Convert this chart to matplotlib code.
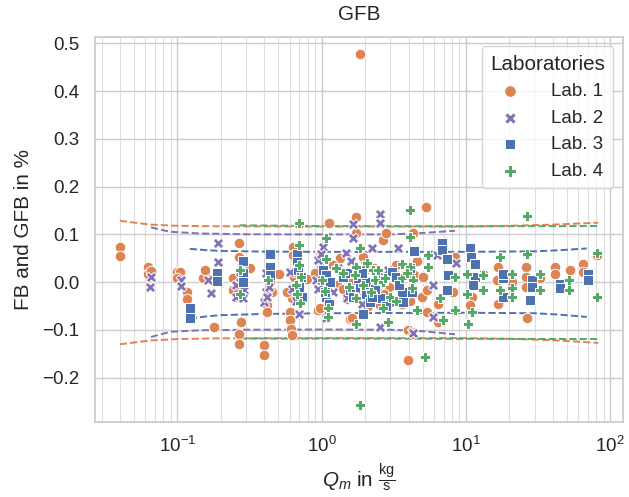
import matplotlib
matplotlib.use("Agg")
import matplotlib.pyplot as plt
import numpy as np
from matplotlib.ticker import LogLocator, NullFormatter

# ---------------- data ----------------
labs = ["Lab. 1", "Lab. 2", "Lab. 3", "Lab. 4"]
colors = ["#DD8452", "#8172B3", "#4C72B0", "#55A868"]
markers = ["o", "X", "s", "P"]

x1 = [0.040, 0.040, 0.063, 0.063, 0.066, 0.099, 0.105, 0.099, 0.117, 0.117,
      0.155, 0.150, 0.180, 0.243, 0.245, 0.267, 0.267, 0.277, 0.267, 0.267,
      0.32, 0.40, 0.40, 0.42, 0.42, 0.43, 0.50, 0.51, 0.60, 0.60,
      0.61, 0.62, 0.62, 0.63, 0.63, 0.70, 0.79, 0.94, 0.97, 0.97,
      1.13, 1.27, 1.35, 1.57, 1.63, 1.74, 1.74, 1.85, 1.94, 2.65,
      2.81, 3.97, 3.97, 4.28, 4.93, 5.34, 5.34, 5.28, 6.43, 6.43,
      8.37, 8.15, 10.95, 10.65, 13.2, 16.6, 16.8, 16.3, 20.8, 26.1,
      26.1, 26.1, 26.4, 32.6, 41.3, 41.3, 52.6, 64.3, 64.3, 81.5,
      0.45, 0.64, 0.68, 0.99, 1.05, 1.45, 1.50, 1.97, 2.30, 2.50,
      2.95, 3.30, 3.60, 4.40, 4.60, 0.26, 1.20, 2.10, 0.155, 0.41,
      0.58, 0.90, 1.10, 1.60, 2.00, 2.40, 3.10, 3.80, 4.10, 5.00,
      0.28, 0.44, 1.40, 2.70]
y1 = [0.074, 0.0545, 0.032, 0.018, 0.024, 0.0216, 0.0216, 0.0078, -0.020, -0.036,
      0.018, 0.008, -0.094, 0.0078, -0.017, 0.082, 0.052, -0.083, -0.109, -0.1285,
      0.0287, -0.132, -0.152, -0.048, -0.062, -0.010, 0.0168, 0.018, -0.062, -0.080,
      -0.097, -0.111, -0.034, 0.074, 0.0566, 0.122, 0.0057, -0.059, -0.055, 0.0566,
      0.123, -0.006, 0.0497, -0.078, -0.076, 0.102, 0.1356, 0.477, 0.053, 0.088,
      0.102, -0.100, -0.1635, 0.102, -0.031, -0.017, -0.062, 0.157, -0.045, -0.083,
      0.053, -0.020, -0.031, -0.048, 0.018, 0.032, -0.045, 0.004, 0.0006, 0.032,
      0.011, -0.0098, -0.076, 0.0078, 0.032, 0.018, 0.025, 0.039, 0.0216, 0.057,
      -0.020, 0.010, -0.015, 0.030, -0.025, 0.015, -0.035, -0.020, 0.030, -0.045,
      -0.010, 0.035, -0.045, 0.015, 0.045, -0.030, 0.035, -0.050, 0.026, -0.028,
      -0.020, 0.020, 0.005, 0.000, 0.025, -0.015, 0.020, -0.030, -0.040, 0.010,
      -0.005, 0.000, -0.015, -0.025]

x2 = [0.066, 0.065, 0.106, 0.106, 0.163, 0.172, 0.19, 0.19, 0.256, 0.29,
      0.256, 0.284, 0.41, 0.40, 0.41, 0.42, 0.60, 0.70, 0.97, 0.94,
      1.03, 0.91, 1.08, 1.47, 1.45, 1.65, 1.65, 2.22, 2.55, 2.55,
      2.52, 2.98, 3.39, 4.20, 4.27, 5.95, 5.95, 6.33, 8.53, 1.51,
      1.20, 1.75, 2.00, 0.70, 0.66, 0.99, 2.70, 3.80, 0.43, 0.62,
      0.95, 1.30, 1.90, 2.40, 3.20, 0.27, 1.60, 2.90]
y2 = [0.0099, -0.0098, 0.004, -0.0084, 0.004, -0.022, 0.081, 0.0426, -0.006, -0.017,
      -0.031, -0.034, -0.020, -0.041, 0.019, -0.030, 0.0216, -0.066, 0.060, 0.046,
      0.074, 0.004, -0.076, 0.0615, 0.018, 0.121, 0.0916, 0.0706, 0.142, 0.124,
      -0.094, -0.041, 0.0706, -0.104, -0.107, -0.073, -0.006, 0.0566, 0.040, -0.034,
      -0.020, -0.010, 0.035, 0.020, -0.040, 0.060, 0.010, -0.025, -0.010, -0.015,
      -0.015, 0.030, -0.045, -0.020, 0.015, 0.010, 0.045, 0.025]

x3 = [0.122, 0.122, 0.187, 0.187, 0.286, 0.286, 0.286, 0.44, 0.44, 0.44,
      0.67, 0.68, 0.69, 0.73, 0.72, 1.03, 1.08, 1.14, 1.08, 1.05,
      1.57, 1.79, 1.84, 1.99, 2.04, 2.04, 2.16, 1.95, 2.54, 3.05,
      3.60, 3.69, 4.20, 4.30, 4.37, 6.78, 6.78, 7.35, 7.55, 7.35,
      10.67, 10.8, 11.55, 11.55, 11.25, 18.0, 18.0, 18.2, 28.6, 28.6,
      27.8, 44.8, 44.8, 70.3, 70.3, 1.40, 1.65, 2.35, 3.30, 2.80,
      1.12, 1.50, 2.25, 2.65, 3.45, 4.10, 0.70, 1.90]
y3 = [-0.053, -0.076, 0.0195, 0.0027, 0.044, 0.0195, 0.0006, 0.0587, 0.032, 0.015,
      0.0587, 0.0426, 0.025, -0.031, 0.010, 0.025, 0.0147, 0.0006, -0.031, -0.020,
      -0.017, 0.0078, -0.013, -0.0098, -0.024, 0.0006, -0.041, -0.066, -0.034, 0.0216,
      -0.020, -0.041, -0.020, 0.0635, 0.0656, 0.081, 0.067, 0.0476, 0.0147, -0.017,
      0.0706, 0.053, 0.039, 0.011, -0.006, 0.0078, -0.031, 0.018, 0.004, -0.0098,
      -0.038, -0.003, -0.013, 0.018, 0.004, 0.010, -0.030, -0.015, 0.010, -0.050,
      -0.045, 0.020, -0.030, 0.005, -0.005, 0.030, -0.010, 0.020]

x4 = [0.27, 0.27, 0.425, 0.70, 0.70, 0.70, 0.66, 0.71, 0.68, 1.07,
      1.07, 1.05, 1.10, 1.10, 1.74, 1.74, 1.74, 1.85, 1.69, 2.27,
      2.33, 2.45, 2.66, 2.66, 2.73, 2.89, 3.58, 3.58, 4.09, 4.09,
      4.09, 4.30, 4.20, 4.55, 5.20, 5.48, 5.48, 6.60, 6.95, 8.40,
      8.40, 10.1, 10.1, 10.4, 10.95, 13.2, 13.2, 17.1, 17.1, 20.8,
      20.8, 20.8, 26.6, 26.6, 32.6, 32.6, 51.9, 51.9, 81.0, 81.0,
      1.85, 1.40, 3.00, 1.25, 1.55, 2.05, 2.20, 3.30, 3.90, 1.00,
      0.72, 1.95]
y4 = [0.025, -0.025, 0.005, 0.123, 0.0776, 0.0356, -0.005, -0.043, -0.024, 0.0916,
      0.048, -0.018, -0.055, -0.073, 0.032, -0.034, -0.087, 0.0706, 0.0147, 0.025,
      0.004, 0.025, 0.0006, -0.055, 0.0078, -0.083, 0.039, 0.0078, 0.032, 0.095,
      0.151, 0.004, -0.013, -0.059, -0.157, 0.0566, 0.032, -0.034, -0.080, 0.011,
      -0.059, 0.018, -0.024, -0.087, -0.062, 0.0147, -0.017, 0.053, -0.017, 0.018,
      -0.013, -0.031, 0.060, 0.139, 0.018, -0.017, 0.004, -0.017, 0.0615, -0.031,
      -0.2564, 0.020, -0.030, 0.030, -0.010, 0.040, -0.020, -0.040, 0.020, 0.005,
      0.010, -0.005]

# uncertainty bands (dashed)
bx1 = [0.040, 0.065, 0.10, 0.20, 1.0, 10.0, 20.0, 40.0, 82.6]
bu1 = [0.1285, 0.1205, 0.118, 0.117, 0.1165, 0.1165, 0.118, 0.1205, 0.1245]
bl1 = [-0.130, -0.122, -0.119, -0.1175, -0.117, -0.117, -0.1185, -0.1215, -0.127]
bx2 = [0.0657, 0.089, 0.143, 0.30, 1.0, 3.0, 5.0, 8.4]
bu2 = [0.1147, 0.1055, 0.102, 0.1003, 0.100, 0.100, 0.103, 0.1076]
bl2 = [-0.1147, -0.104, -0.1006, -0.0995, -0.099, -0.0995, -0.1027, -0.109]
bx3 = [0.122, 0.16, 0.20, 0.40, 1.0, 10.0, 30.0, 45.0, 68.7]
bu3 = [0.0698, 0.067, 0.0655, 0.064, 0.0635, 0.0635, 0.0645, 0.067, 0.0706]
bl3 = [-0.0761, -0.0715, -0.069, -0.0665, -0.065, -0.064, -0.065, -0.068, -0.0727]
bx4 = [0.27, 1.0, 10.0, 82.6]
bu4 = [0.119, 0.1175, 0.117, 0.1175]
bl4 = [-0.118, -0.118, -0.1185, -0.119]

# ---------------- style ----------------
plt.rcParams["font.family"] = ["Liberation Sans", "DejaVu Sans"]
plt.rcParams["mathtext.fontset"] = "custom"
plt.rcParams["mathtext.rm"] = "Liberation Sans"
plt.rcParams["mathtext.it"] = "Liberation Sans:italic"
plt.rcParams["mathtext.bf"] = "Liberation Sans:bold"

TICK = 13.5
LABEL = 14.9
TXT = "#262626"

fig = plt.figure(figsize=(6.29, 4.97), dpi=100)
ax = fig.add_axes([95 / 629, (497 - 421.7) / 497, (622.7 - 95) / 629, (421.7 - 36.7) / 497])
ax.set_facecolor("white")
for s in ax.spines.values():
    s.set_color("#cccccc")
    s.set_linewidth(1.25)

ax.set_xscale("log")
ax.set_xlim(0.0269, 121.9)
ax.set_ylim(-0.292, 0.5138)
ax.set_yticks(np.arange(-0.2, 0.51, 0.1))
ax.xaxis.set_minor_locator(LogLocator(base=10, subs=np.arange(2, 10), numticks=20))
ax.xaxis.set_minor_formatter(NullFormatter())
ax.grid(True, which="major", color="#cccccc", linewidth=1.0, zorder=0)
ax.grid(True, which="minor", axis="x", color="#dddddd", linewidth=0.8, zorder=0)
ax.set_axisbelow(True)
ax.tick_params(which="both", length=0, labelsize=TICK, colors=TXT)
ax.tick_params(axis="y", pad=11)
ax.tick_params(axis="x", pad=10)

bands = [(bx1, bu1, bl1), (bx2, bu2, bl2), (bx3, bu3, bl3), (bx4, bu4, bl4)]
for (bx, bu, bl), c in zip(bands, colors):
    ax.plot(bx, bu, ls="--", color=c, lw=1.4, zorder=1.5)
    ax.plot(bx, bl, ls="--", color=c, lw=1.4, zorder=1.5)

xs = [x1, x2, x3, x4]
ys = [y1, y2, y3, y4]
sizes = [58, 58, 44, 62]
for x, y, c, m, lab, sz in zip(xs, ys, colors, markers, labs, sizes):
    ax.scatter(x, y, s=sz, marker=m, color=c, edgecolor="white", linewidth=0.7,
               label=lab, zorder=2)

ax.set_title("GFB", fontsize=LABEL, color=TXT, pad=12)
ax.set_ylabel("FB and GFB in %", fontsize=LABEL, color=TXT, labelpad=7)
ax.set_xlabel(r"$Q_m$ in $\frac{\mathrm{kg}}{\mathrm{s}}$", fontsize=LABEL, color=TXT, labelpad=4)

leg = ax.legend(title="Laboratories", loc="upper right", fontsize=TICK,
                title_fontsize=LABEL, frameon=True, fancybox=True,
                borderpad=0.45, labelspacing=0.5, handletextpad=1.2,
                markerscale=1.1)
leg.get_frame().set_edgecolor("#cccccc")
leg.get_frame().set_facecolor("white")
leg.get_frame().set_alpha(0.8)
for t in leg.get_texts():
    t.set_color(TXT)
leg.get_title().set_color(TXT)

fig.savefig("out.png", dpi=100)
